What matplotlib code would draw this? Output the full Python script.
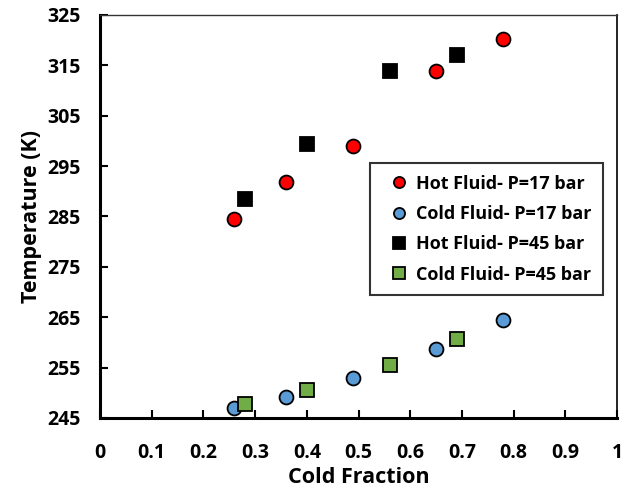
import numpy as np
import matplotlib
matplotlib.use("Agg")
import matplotlib.pyplot as plt

plt.rcParams["font.family"] = ["Open Sans", "DejaVu Sans"]
plt.rcParams["font.weight"] = "bold"

# data
x17 = [0.26, 0.36, 0.49, 0.65, 0.78]
hot17 = [284.6, 291.9, 299.0, 313.8, 320.3]
cold17 = [247.0, 249.2, 252.9, 258.7, 264.4]
x45 = [0.28, 0.40, 0.56, 0.69]
hot45 = [288.4, 299.3, 313.8, 317.1]
cold45 = [247.7, 250.5, 255.5, 260.6]

xTicks = [0, 0.1, 0.2, 0.3, 0.4, 0.5, 0.6, 0.7, 0.8, 0.9, 1]
xTickLabels = ["0", "0.1", "0.2", "0.3", "0.4", "0.5", "0.6", "0.7", "0.8", "0.9", "1"]
yTicks = [245, 255, 265, 275, 285, 295, 305, 315, 325]

fig = plt.figure(figsize=(6.36, 4.97), dpi=100)
ax = fig.add_axes([100 / 636, 1 - 418 / 497, 517 / 636, 403 / 497])

ms = 10
ax.plot(x17, hot17, "o", color="#FF0000", markeredgecolor="black", markeredgewidth=1.3, markersize=ms, label="Hot Fluid- P=17 bar")
ax.plot(x17, cold17, "o", color="#5B9BD5", markeredgecolor="black", markeredgewidth=1.3, markersize=ms, label="Cold Fluid- P=17 bar")
ax.plot(x45, hot45, "s", color="black", markeredgecolor="black", markeredgewidth=1.3, markersize=ms, label="Hot Fluid- P=45 bar")
ax.plot(x45, cold45, "s", color="#70AD47", markeredgecolor="black", markeredgewidth=1.3, markersize=ms, label="Cold Fluid- P=45 bar")

ax.set_xlim(0, 1)
ax.set_ylim(245, 325)
ax.set_xticks(xTicks)
ax.set_xticklabels(xTickLabels)
ax.set_yticks(yTicks)
ax.spines["top"].set_linewidth(1.0)
ax.spines["top"].set_color("#333333")
ax.spines["right"].set_linewidth(1.2)
ax.spines["left"].set_linewidth(2.2)
ax.spines["bottom"].set_linewidth(2.2)
ax.tick_params(direction="in", length=6, width=1.5, labelsize=14)
ax.tick_params(axis="x", pad=18)
ax.tick_params(axis="y", pad=14)
for lbl in ax.get_xticklabels() + ax.get_yticklabels():
    lbl.set_fontweight("bold")

ax.set_xlabel("Cold Fraction", fontsize=15.5, fontweight="bold", labelpad=3)
ax.set_ylabel("Temperature (K)", fontsize=15.5, fontweight="bold", labelpad=4)

leg = ax.legend(loc="upper left", bbox_to_anchor=((370 - 100) / 517, (418 - 163) / 403),
                frameon=True, fancybox=False, edgecolor="black", fontsize=13,
                handletextpad=0.0, borderpad=0.65, labelspacing=0.68, markerscale=0.8,
                handlelength=1.9, borderaxespad=0)
leg.get_frame().set_linewidth(1.5)
for t in leg.get_texts():
    t.set_fontweight("bold")

plt.savefig("out.png", dpi=100)
